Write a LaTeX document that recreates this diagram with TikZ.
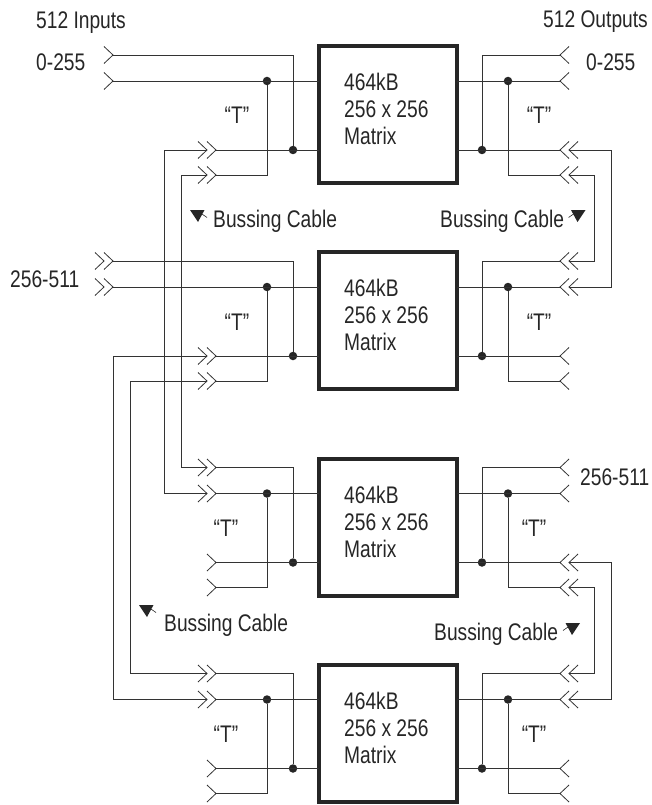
\documentclass[tikz,border=0pt]{standalone}
\usepackage{fontspec}
\setmainfont[FakeStretch=0.8]{Liberation Sans}
\definecolor{wire}{HTML}{333333}
\definecolor{ink}{HTML}{262626}
\tikzset{
  wirepath/.style={draw=wire,line width=.8pt},
  matrixbox/.style={rectangle,draw=ink,line width=3.7pt,minimum width=137.5pt,minimum height=137pt,inner sep=0pt,outer sep=0pt},
  matrixtext/.style={align=left,anchor=west,inner sep=0pt,text=ink,font=\fontsize{24}{27}\selectfont},
  labeltext/.style={anchor=base west,inner sep=0pt,text=ink,font=\fontsize{24}{27}\selectfont},
  teetext/.style={anchor=base,inner sep=0pt,text=ink,font=\fontsize{24}{27}\selectfont},
  junction/.style={circle,fill=ink,inner sep=0pt,outer sep=0pt,minimum size=8.5pt},
  plugone/.pic={\draw[wirepath] (-9,-8.5) -- (0,0) -- (-9,8.5);},
  plugtwo/.pic={\draw[wirepath] (-9,-8.5) -- (0,0) -- (-9,8.5) (-18,-8.5) -- (-9,0) -- (-18,8.5);},
  cablemark/.pic={\fill[ink] (-7.5,0) -- (7,0) -- (.5,12) -- cycle; \draw[ink,line width=.6pt] (3,3) -- (9.5,7.5);}
}
\begin{document}
\begin{tikzpicture}[x=1pt,y=-1pt]
  \useasboundingbox (0,0) rectangle (652,805);

  \foreach \n/\dy/\tipx/\teex/\teer/\pa/\pb/\pc/\pd in {
      1/0/113/237/539/plugone/plugtwo/plugone/plugtwo,
      2/206/113/237/539/plugtwo/plugtwo/plugtwo/plugone,
      3/412.5/216/226/534/plugtwo/plugone/plugone/plugtwo,
      4/618.5/216/226/534/plugtwo/plugone/plugtwo/plugone} {
    \begin{scope}[yshift=-\dy pt]
      \node[matrixbox] (m\n) at (388,114.8) {};
      \node[matrixtext] (mt\n) at (344,109) {464kB\\256 x 256\\Matrix};
      \node[teetext] (tl\n) at (\teex,124) {“T”};
      \node[teetext] (tr\n) at (\teer,124) {“T”};

      \node[junction] (jlb\n) at (267,81) {};
      \node[junction] (jlc\n) at (293,150) {};
      \node[junction] (jrb\n) at (508,81) {};
      \node[junction] (jrc\n) at (482,150) {};

      \coordinate (la\n) at (\tipx,55);
      \coordinate (lb\n) at (\tipx,81);
      \coordinate (lc\n) at (216,150);
      \coordinate (ld\n) at (216,175);
      \coordinate (ra\n) at (560,55);
      \coordinate (rb\n) at (560,81);
      \coordinate (rc\n) at (560,150);
      \coordinate (rd\n) at (560,175);

      \draw[wirepath] (la\n) -| (jlc\n);
      \draw[wirepath] (lb\n) -- (lb\n -| m\n.west);
      \draw[wirepath] (lc\n) -- (lc\n -| m\n.west);
      \draw[wirepath] (jlb\n) |- (ld\n);
      \draw[wirepath] (ra\n) -| (jrc\n);
      \draw[wirepath] (rb\n) -- (rb\n -| m\n.east);
      \draw[wirepath] (rc\n) -- (rc\n -| m\n.east);
      \draw[wirepath] (jrb\n) |- (rd\n);

      \path (la\n) pic {\pa};
      \path (lb\n) pic {\pa};
      \path (lc\n) pic {\pb};
      \path (ld\n) pic {\pb};
      \path (ra\n) pic[xscale=-1] {\pc};
      \path (rb\n) pic[xscale=-1] {\pc};
      \path (rc\n) pic[xscale=-1] {\pd};
      \path (rd\n) pic[xscale=-1] {\pd};
    \end{scope}
  }

  \coordinate (busa) at (164.5,0);
  \coordinate (busb) at (181,0);
  \coordinate (busc) at (113,0);
  \coordinate (busd) at (130,0);
  \coordinate (buse) at (611,0);
  \coordinate (busf) at (594,0);

  \draw[wirepath] ([xshift=-9pt]lc1) -- (lc1 -| busa) |- ([xshift=-9pt]lb3);
  \draw[wirepath] ([xshift=-9pt]ld1) -- (ld1 -| busb) |- ([xshift=-9pt]la3);
  \draw[wirepath] ([xshift=-9pt]lc2) -- (lc2 -| busc) |- ([xshift=-9pt]lb4);
  \draw[wirepath] ([xshift=-9pt]ld2) -- (ld2 -| busd) |- ([xshift=-9pt]la4);
  \draw[wirepath] ([xshift=9pt]rc1) -- (rc1 -| buse) |- ([xshift=9pt]rb2);
  \draw[wirepath] ([xshift=9pt]rd1) -- (rd1 -| busf) |- ([xshift=9pt]ra2);
  \draw[wirepath] ([xshift=9pt]rc3) -- (rc3 -| buse) |- ([xshift=9pt]rb4);
  \draw[wirepath] ([xshift=9pt]rd3) -- (rd3 -| busf) |- ([xshift=9pt]ra4);

  \node[labeltext] (inputs) at (36,29) {512 Inputs};
  \node[labeltext] (outputs) at (543,28) {512 Outputs};
  \node[labeltext] (inlow) at (36,71) {0-255};
  \node[labeltext] (outlow) at (586,71) {0-255};
  \node[labeltext] (inhigh) at (10,287) {256-511};
  \node[labeltext] (outhigh) at (580,485) {256-511};

  \node[labeltext] (bussa) at (213,227) {Bussing Cable};
  \node[labeltext] (bussb) at (440,227) {Bussing Cable};
  \node[labeltext] (bussc) at (164,631) {Bussing Cable};
  \node[labeltext] (bussd) at (434,640) {Bussing Cable};

  \path (197.5,210) pic {cablemark};
  \path (578,210) pic[xscale=-1] {cablemark};
  \path (146.5,605) pic {cablemark};
  \path (572.5,623) pic[xscale=-1] {cablemark};

\end{tikzpicture}
\end{document}
